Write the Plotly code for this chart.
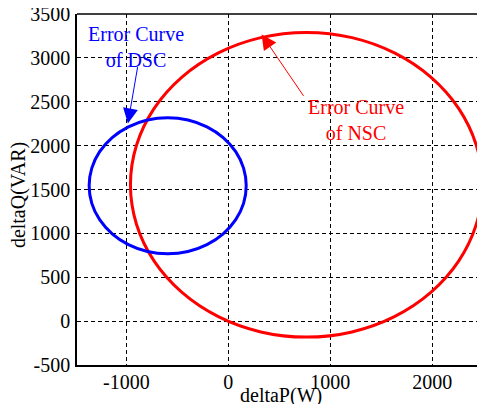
import plotly.graph_objects as go

# Error curve of NSC (red)
nsc_p = [2490, 2431, 2259, 1985, 1628, 1212, 765, 318, -98, -455, -729, -901, -960,
         -901, -729, -455, -98, 318, 765, 1212, 1628, 1985, 2259, 2431, 2490]
nsc_q = [1554, 2004, 2422, 2781, 3057, 3231, 3290, 3231, 3057, 2781, 2422, 2004, 1554,
         1104, 686, 327, 51, -123, -182, -123, 51, 327, 686, 1104, 1554]

# Error curve of DSC (blue)
dsc_p = [175, 149, 72, -51, -210, -396, -595, -794, -980, -1139, -1262, -1339, -1365,
         -1339, -1262, -1139, -980, -794, -595, -396, -210, -51, 72, 149, 175]
dsc_q = [1543, 1744, 1931, 2091, 2214, 2292, 2318, 2292, 2214, 2091, 1931, 1744, 1543,
         1342, 1156, 995, 872, 794, 768, 794, 872, 995, 1156, 1342, 1543]

x_ticks = [-1000, 0, 1000, 2000]
x_ticktext = ["-1000", "0", "1000", "2000"]
y_ticks = [-500, 0, 500, 1000, 1500, 2000, 2500, 3000, 3500]
y_ticktext = ["-500", "0", "500", "1000", "1500", "2000", "2500", "3000", "3500"]

FONT = "Liberation Serif, Times New Roman, serif"
FS = 20

fig = go.Figure()
fig.add_trace(go.Scatter(x=nsc_p, y=nsc_q, mode="lines", line=dict(color="#ff0000", width=3, shape="spline"),
                         showlegend=False, hoverinfo="skip"))
fig.add_trace(go.Scatter(x=dsc_p, y=dsc_q, mode="lines", line=dict(color="#0000ff", width=3, shape="spline"),
                         showlegend=False, hoverinfo="skip"))

axis_common = dict(
    showgrid=True, gridcolor="#000000", gridwidth=1, griddash="4px,3px",
    zeroline=False, showline=True, linecolor="#000000", linewidth=1.5,
    ticks="", tickfont=dict(family=FONT, size=FS, color="#000000"),
    automargin=False, ticklabeloverflow="allow",
)
fig.update_xaxes(range=[-1484, 2516], tickvals=x_ticks, ticktext=x_ticktext, ticklabelstandoff=-2,
                 **axis_common)
fig.update_yaxes(range=[-500, 3500], tickvals=y_ticks, ticktext=y_ticktext, ticklabelstandoff=1,
                 **axis_common)

# axis titles
fig.add_annotation(xref="paper", yref="paper", x=0.5, y=-0.086, text="deltaP(W)", showarrow=False,
                   xanchor="center", yanchor="middle", font=dict(family=FONT, size=FS, color="#000000"))
fig.add_annotation(xref="paper", yref="paper", x=-0.1446, y=0.484, text="deltaQ(VAR)", showarrow=False,
                   textangle=-90, xanchor="center", yanchor="middle",
                   font=dict(family=FONT, size=FS, color="#000000"))

# top border
fig.add_shape(type="line", xref="paper", yref="paper", x0=0, x1=1, y0=1, y1=1,
              line=dict(color="#000000", width=1.5))

# labels
fig.add_annotation(x=-905, y=3119, text="Error Curve<br>of DSC", showarrow=False,
                   font=dict(family=FONT, size=FS, color="#0000ff"))
fig.add_annotation(x=1255, y=2288, text="Error Curve<br>of NSC", showarrow=False,
                   font=dict(family=FONT, size=FS, color="#ff0000"))
# arrows
fig.add_annotation(x=-985, y=2253, ax=-887, ay=2913, axref="x", ayref="y", text="",
                   showarrow=True, arrowhead=2, arrowsize=3, arrowwidth=1, arrowcolor="#0000ff")
fig.add_annotation(x=326, y=3267, ax=747, ay=2550, axref="x", ayref="y", text="",
                   showarrow=True, arrowhead=2, arrowsize=3, arrowwidth=1, arrowcolor="#ff0000")

fig.update_layout(
    width=477, height=396,
    margin=dict(l=69, r=0, t=6, b=39),
    paper_bgcolor="#ffffff", plot_bgcolor="#ffffff",
    font=dict(family=FONT, size=FS, color="#000000"),
)

fig.write_html("out.html")
